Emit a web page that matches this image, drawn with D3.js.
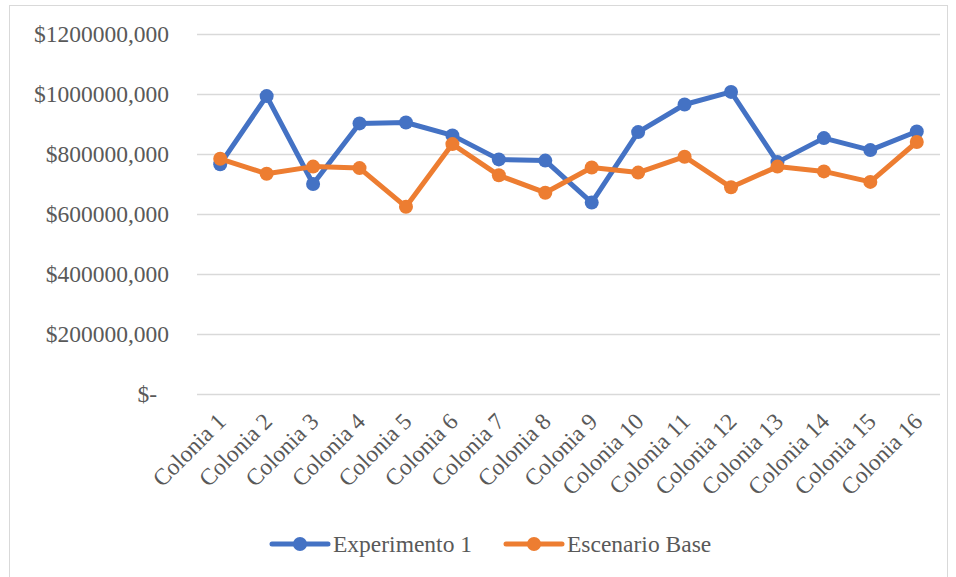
<!DOCTYPE html>
<html>
<head>
<meta charset="utf-8">
<script src="https://cdn.jsdelivr.net/npm/d3@7"></script>
<style>
  body { margin: 0; background: #fff; }
  svg text { font-family: "Liberation Serif", "Times New Roman", serif; fill: #595959; }
</style>
</head>
<body>
<svg id="chart" width="956" height="577"></svg>
<script>
// data
var categories = ["Colonia 1", "Colonia 2", "Colonia 3", "Colonia 4", "Colonia 5", "Colonia 6", "Colonia 7", "Colonia 8",
  "Colonia 9", "Colonia 10", "Colonia 11", "Colonia 12", "Colonia 13", "Colonia 14", "Colonia 15", "Colonia 16"];
var experimento1 = [766000, 993000, 700000, 902000, 905000, 862000, 782000, 778000,
  638000, 873000, 965000, 1007000, 773000, 853000, 813000, 875000];
var escenarioBase = [784000, 734000, 758000, 753000, 624000, 833000, 729000, 671000,
  755000, 738000, 791000, 689000, 758000, 742000, 707000, 840000];
var seriesNames = ["Experimento 1", "Escenario Base"];
var seriesColors = ["#4472C4", "#ED7D31"];
var yTicks = [0, 200000, 400000, 600000, 800000, 1000000, 1200000];

(function() {
  var svg = d3.select('#chart');

  var left = 197, right = 940, top = 34, bottom = 394,
    fontSize = 23.5;

  // outer chart frame
  svg.append('rect')
    .attr('x', 9.5).attr('y', 5.5)
    .attr('width', 938).attr('height', 600)
    .attr('fill', 'none')
    .attr('stroke', '#D9D9D9')
    .attr('stroke-width', 1);

  var x = d3.scaleBand().domain(categories).range([left, right]).padding(0);
  var y = d3.scaleLinear().domain([0, 1200000]).range([bottom, top]);

  // excel-ish accounting label, as shown in the source
  var fmt = function(v) {
    if (v === 0) return '$-';
    return '$' + v + ',000';
  };

  // gridlines
  svg.append('g').selectAll('line')
    .data(yTicks)
    .enter()
      .append('line')
      .attr('x1', left).attr('x2', right)
      .attr('y1', function(d) { return Math.round(y(d)) + 0.5; })
      .attr('y2', function(d) { return Math.round(y(d)) + 0.5; })
      .attr('stroke', '#D9D9D9')
      .attr('stroke-width', 1.3);

  // y labels
  svg.append('g').selectAll('text')
    .data(yTicks)
    .enter()
      .append('text')
      .attr('x', function(d) { return d === 0 ? 157 : 169; })
      .attr('y', function(d) { return y(d); })
      .attr('dy', '0.35em')
      .attr('text-anchor', 'end')
      .attr('font-size', fontSize)
      .text(fmt);

  // x labels, rotated
  svg.append('g').selectAll('text')
    .data(categories)
    .enter()
      .append('text')
      .attr('text-anchor', 'end')
      .attr('font-size', fontSize)
      .attr('transform', function(d) {
        var cx = x(d) + x.bandwidth() / 2 + 7;
        return 'translate(' + cx + ',' + 423 + ') rotate(-45)';
      })
      .text(function(d) { return d; });

  var series = [experimento1, escenarioBase];

  var line = d3.line()
    .x(function(d, i) { return x(categories[i]) + x.bandwidth() / 2; })
    .y(function(d) { return y(d); });

  series.forEach(function(values, s) {
    var g = svg.append('g');
    g.append('path')
      .attr('d', line(values))
      .attr('fill', 'none')
      .attr('stroke', seriesColors[s])
      .attr('stroke-width', 5)
      .attr('stroke-linejoin', 'round')
      .attr('stroke-linecap', 'round');
    g.selectAll('circle')
      .data(values)
      .enter()
        .append('circle')
        .attr('cx', function(d, i) { return x(categories[i]) + x.bandwidth() / 2; })
        .attr('cy', function(d) { return y(d); })
        .attr('r', 7)
        .attr('fill', seriesColors[s]);
  });

  // legend
  var legendX = [272, 506], legendY = 544;
  var legend = svg.append('g').selectAll('g')
    .data(seriesNames)
    .enter()
      .append('g')
      .attr('transform', function(d, i) { return 'translate(' + legendX[i] + ',' + legendY + ')'; });

  legend.append('line')
    .attr('x1', 0).attr('x2', 56)
    .attr('stroke', function(d, i) { return seriesColors[i]; })
    .attr('stroke-width', 5)
    .attr('stroke-linecap', 'round');
  legend.append('circle')
    .attr('cx', 28).attr('r', 7)
    .attr('fill', function(d, i) { return seriesColors[i]; });
  legend.append('text')
    .attr('x', 61)
    .attr('dy', '0.35em')
    .attr('font-size', fontSize)
    .text(function(d) { return d; });
}());
</script>
</body>
</html>
